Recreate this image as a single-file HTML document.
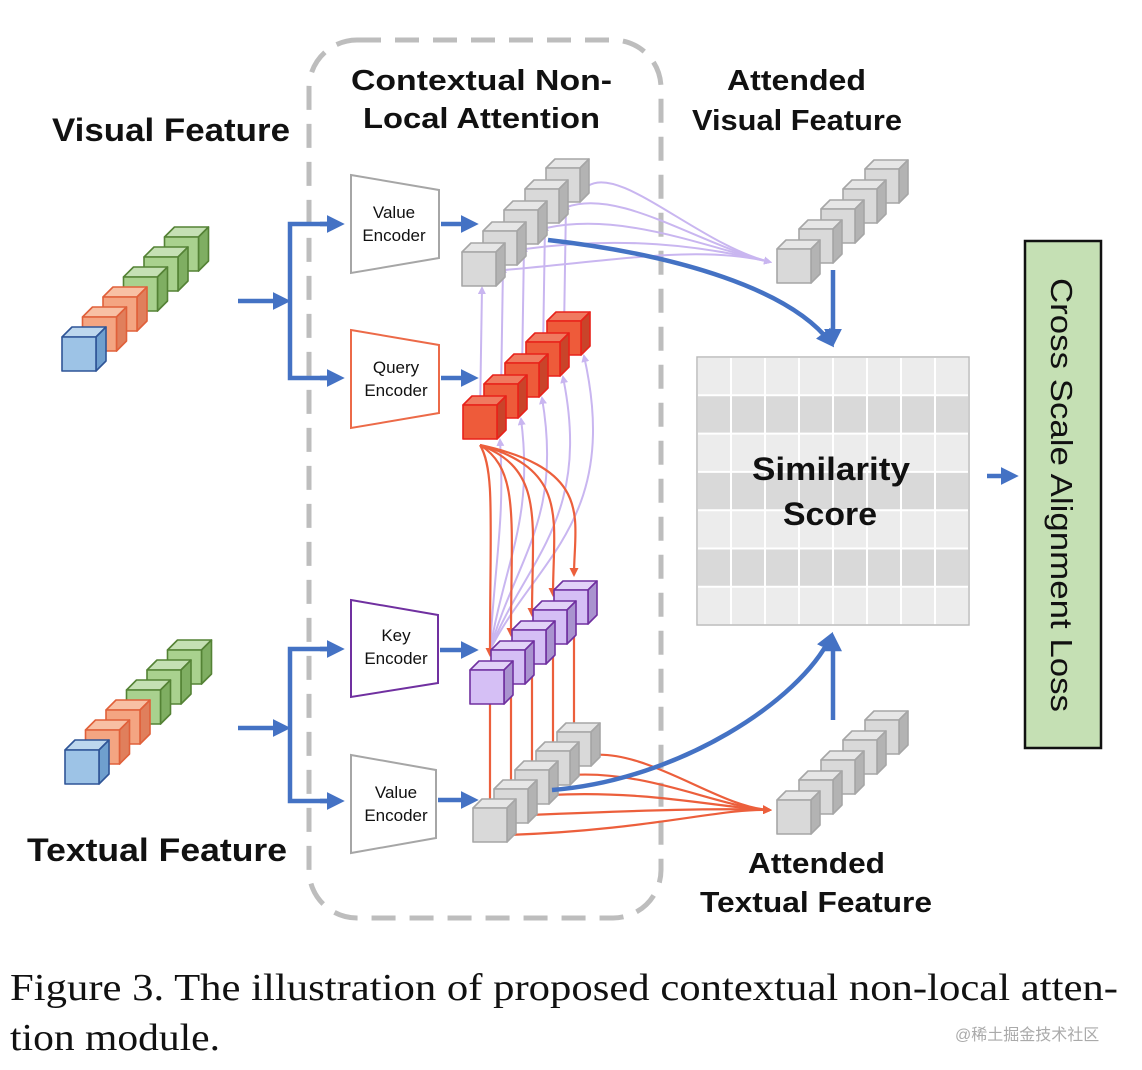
<!DOCTYPE html>
<html><head><meta charset="utf-8"><style>
body{margin:0;background:#fff;width:1142px;height:1070px;overflow:hidden}
svg{display:block}
.t{font-family:"Liberation Sans",sans-serif;font-weight:bold;fill:#111}
.s{font-family:"Liberation Sans",sans-serif;fill:#111;font-size:17px}
</style></head><body>
<svg id="g" width="1142" height="1070" viewBox="0 0 1142 1070" xmlns="http://www.w3.org/2000/svg">
<defs>
<marker id="ab" markerWidth="4" markerHeight="4" refX="2.5" refY="2" orient="auto" markerUnits="strokeWidth"><path d="M0,0 L4,2 L0,4 z" fill="#4472c4"/></marker>
<marker id="al" markerWidth="8" markerHeight="8" refX="6" refY="4" orient="auto" markerUnits="userSpaceOnUse"><path d="M0,0 L8,4 L0,8 z" fill="#c9b6f0"/></marker>
<marker id="ao" markerWidth="9" markerHeight="9" refX="7" refY="4.5" orient="auto" markerUnits="userSpaceOnUse"><path d="M0,0 L9,4.5 L0,9 z" fill="#ec5f3c"/></marker>
</defs>
<rect x="309" y="40" width="352" height="878" rx="48" fill="none" stroke="#bdbdbd" stroke-width="5" stroke-dasharray="24 14"/>
<g id="grid"></g>
<g id="lines"></g>
<g id="cubes"></g>
<polygon points="351,175 439,190 439,258 351,273" fill="#fff" stroke="#a6a6a6" stroke-width="2"/>
<polygon points="351,330 439,345 439,413 351,428" fill="#fff" stroke="#ec6a48" stroke-width="2"/>
<polygon points="351,600 438,615 438,683 351,697" fill="#fff" stroke="#7030a0" stroke-width="2"/>
<polygon points="351,755 436,770 436,838 351,853" fill="#fff" stroke="#a6a6a6" stroke-width="2"/>
<text class="s" x="394" y="218" text-anchor="middle">Value</text><text class="s" x="394" y="241" text-anchor="middle">Encoder</text>
<text class="s" x="396" y="373" text-anchor="middle">Query</text><text class="s" x="396" y="396" text-anchor="middle">Encoder</text>
<text class="s" x="396" y="641" text-anchor="middle">Key</text><text class="s" x="396" y="664" text-anchor="middle">Encoder</text>
<text class="s" x="396" y="798" text-anchor="middle">Value</text><text class="s" x="396" y="821" text-anchor="middle">Encoder</text>
<g stroke="#4472c4" stroke-width="4.5" fill="none">
<path d="M238,301 H284" marker-end="url(#ab)"/>
<path d="M338,224 H290 V378 H338" /><path d="M320,224 H338" marker-end="url(#ab)"/><path d="M320,378 H338" marker-end="url(#ab)"/>
<path d="M238,728 H284" marker-end="url(#ab)"/>
<path d="M338,649 H290 V801 H338"/><path d="M320,649 H338" marker-end="url(#ab)"/><path d="M320,801 H338" marker-end="url(#ab)"/>
<path d="M441,224 H472" marker-end="url(#ab)"/><path d="M441,378 H472" marker-end="url(#ab)"/>
<path d="M440,650 H472" marker-end="url(#ab)"/><path d="M438,800 H472" marker-end="url(#ab)"/>
<path d="M548,240 C680,255 790,290 830,342" marker-end="url(#ab)"/>
<path d="M833,270 V340" marker-end="url(#ab)"/>
<path d="M552,790 C680,780 800,700 830,638" marker-end="url(#ab)"/>
<path d="M833,720 V640" marker-end="url(#ab)"/>
<path d="M987,476 H1012" marker-end="url(#ab)"/>
</g>
<rect x="1025" y="241" width="76" height="507" fill="#c5e0b4" stroke="#111" stroke-width="2.5"/>
<text class="t" style="font-weight:normal" font-size="31" transform="translate(1051,495) rotate(90)" text-anchor="middle" textLength="434" lengthAdjust="spacingAndGlyphs">Cross Scale Alignment Loss</text>
<text class="t" font-size="32" x="52" y="141" textLength="238" lengthAdjust="spacingAndGlyphs">Visual Feature</text>
<text class="t" font-size="29" x="351" y="90" textLength="261" lengthAdjust="spacingAndGlyphs">Contextual  Non-</text>
<text class="t" font-size="29" x="363" y="128" textLength="237" lengthAdjust="spacingAndGlyphs">Local  Attention</text>
<text class="t" font-size="29" x="727" y="90" textLength="139" lengthAdjust="spacingAndGlyphs">Attended</text>
<text class="t" font-size="29" x="692" y="130" textLength="210" lengthAdjust="spacingAndGlyphs">Visual Feature</text>
<text class="t" font-size="32" x="27" y="861" textLength="260" lengthAdjust="spacingAndGlyphs">Textual Feature</text>
<text class="t" font-size="29" x="748" y="873" textLength="137" lengthAdjust="spacingAndGlyphs">Attended</text>
<text class="t" font-size="29" x="700" y="912" textLength="232" lengthAdjust="spacingAndGlyphs">Textual Feature</text>
<text class="t" font-size="32" x="752" y="480" textLength="158" lengthAdjust="spacingAndGlyphs">Similarity</text>
<text class="t" font-size="32" x="783" y="525" textLength="94" lengthAdjust="spacingAndGlyphs">Score</text>
<text x="10" y="1000" font-family="Liberation Serif,serif" font-size="38" fill="#111" textLength="1108" lengthAdjust="spacingAndGlyphs">Figure 3. The illustration of proposed contextual non-local atten-</text>
<text x="10" y="1050" font-family="Liberation Serif,serif" font-size="38" fill="#111" textLength="210" lengthAdjust="spacingAndGlyphs">tion module.</text>
<text x="955" y="1040" font-family="Liberation Sans,'Noto Sans CJK SC',sans-serif" font-size="16" fill="#aaa">@稀土掘金技术社区</text>
</svg>
<script>
var NS="http://www.w3.org/2000/svg";
function el(p,t,a){var e=document.createElementNS(NS,t);for(var k in a)e.setAttribute(k,a[k]);p.appendChild(e);return e;}
var G=document.getElementById('grid');
for(var r=0;r<7;r++){el(G,'rect',{x:697,y:357+r*38.3,width:272,height:38.3,fill:r%2?'#d9d9d9':'#ececec'});}
for(var c=0;c<=8;c++)el(G,'line',{x1:697+c*34,y1:357,x2:697+c*34,y2:625,stroke:'#fff','stroke-width':2});
for(var r=0;r<=7;r++)el(G,'line',{x1:697,y1:357+r*38.3,x2:969,y2:357+r*38.3,stroke:'#fff','stroke-width':2});
el(G,'rect',{x:697,y:357,width:272,height:268,fill:'none',stroke:'#bbb','stroke-width':1.5});
var C=document.getElementById('cubes');
function cube(x,y,s,d,f,t,sd,st){var g=el(C,'g',{stroke:st,'stroke-width':1.6,'stroke-linejoin':'round'});
el(g,'polygon',{points:[x,y,x+d,y-d,x+s+d,y-d,x+s,y].join(','),fill:t});
el(g,'polygon',{points:[x+s,y,x+s+d,y-d,x+s+d,y+s-d,x+s,y+s].join(','),fill:sd});
el(g,'rect',{x:x,y:y,width:s,height:s,fill:f});}
var gray=['#d9d9d9','#e6e6e6','#b3b3b3','#a6a6a6'],red=['#ee5b3a','#f07a60','#c9442a','#e8221a'],pur=['#d5bff5','#e2d2f8','#a993cf','#7030a0'],
blue=['#9dc3e6','#bdd7ee','#6f9fce','#2f5597'],org=['#f4a582','#f8c0a4','#e07f5c','#e0603a'],grn=['#a9d18e','#c5e0b4','#7fae62','#548235'];
function row(x0,y0,dx,dy,n,s,d,cols){for(var i=n-1;i>=0;i--){var c=cols[i];cube(x0+i*dx,y0+i*dy,s,d,c[0],c[1],c[2],c[3]);}}
row(62,337,20.5,-20,6,34,10,[blue,org,org,grn,grn,grn]);
row(65,750,20.5,-20,6,34,10,[blue,org,org,grn,grn,grn]);
var L=document.getElementById('lines');
function ln(d,col,w,m){el(L,'path',{d:d,stroke:col,'stroke-width':w,fill:'none','marker-end':m?'url(#'+m+')':''});}
var lav='#c9b6f0',o='#ec5f3c';
for(var i=0;i<5;i++){var x=495+i*21+9,y=270-i*21;ln('M'+x+','+y+' C'+(620)+','+(y-10-i*3)+' 700,'+(245)+' 770,262',lav,2,'al');}
for(var i=0;i<5;i++){var x=480+i*21,y=415-i*21;ln('M'+x+','+y+' L'+(x+2)+','+(288-i*21),lav,2,'al');}
for(var i=0;i<5;i++){var tx=490+i*21+10,ty=440-i*21;ln('M490,650 C'+(495+i*10)+',560 '+(tx+5+i*8)+',520 '+tx+','+ty,lav,2,'al');}
for(var i=0;i<5;i++){var tx=490+i*21,ty=655-i*20;ln('M480,445 C'+(495+i*25)+',470 '+(tx)+',520 '+tx+','+ty,o,2.2,'ao');}
for(var i=0;i<5;i++){var x=490+i*21,y=690-i*20;ln('M'+x+','+y+' L'+x+','+(815-i*19),o,2.2,'ao');}
for(var i=0;i<5;i++){var x=508+i*21,y=835-i*20;ln('M'+x+','+y+' C650,'+(y-5)+' 720,808 770,810',o,2.2,'ao');}
row(462,252,21,-21,5,34,9,[gray,gray,gray,gray,gray]);
row(463,405,21,-21,5,34,9,[red,red,red,red,red]);
row(470,670,21,-20,5,34,9,[pur,pur,pur,pur,pur]);
row(473,808,21,-19,5,34,9,[gray,gray,gray,gray,gray]);
row(777,249,22,-20,5,34,9,[gray,gray,gray,gray,gray]);
row(777,800,22,-20,5,34,9,[gray,gray,gray,gray,gray]);
</script>
</body></html>
